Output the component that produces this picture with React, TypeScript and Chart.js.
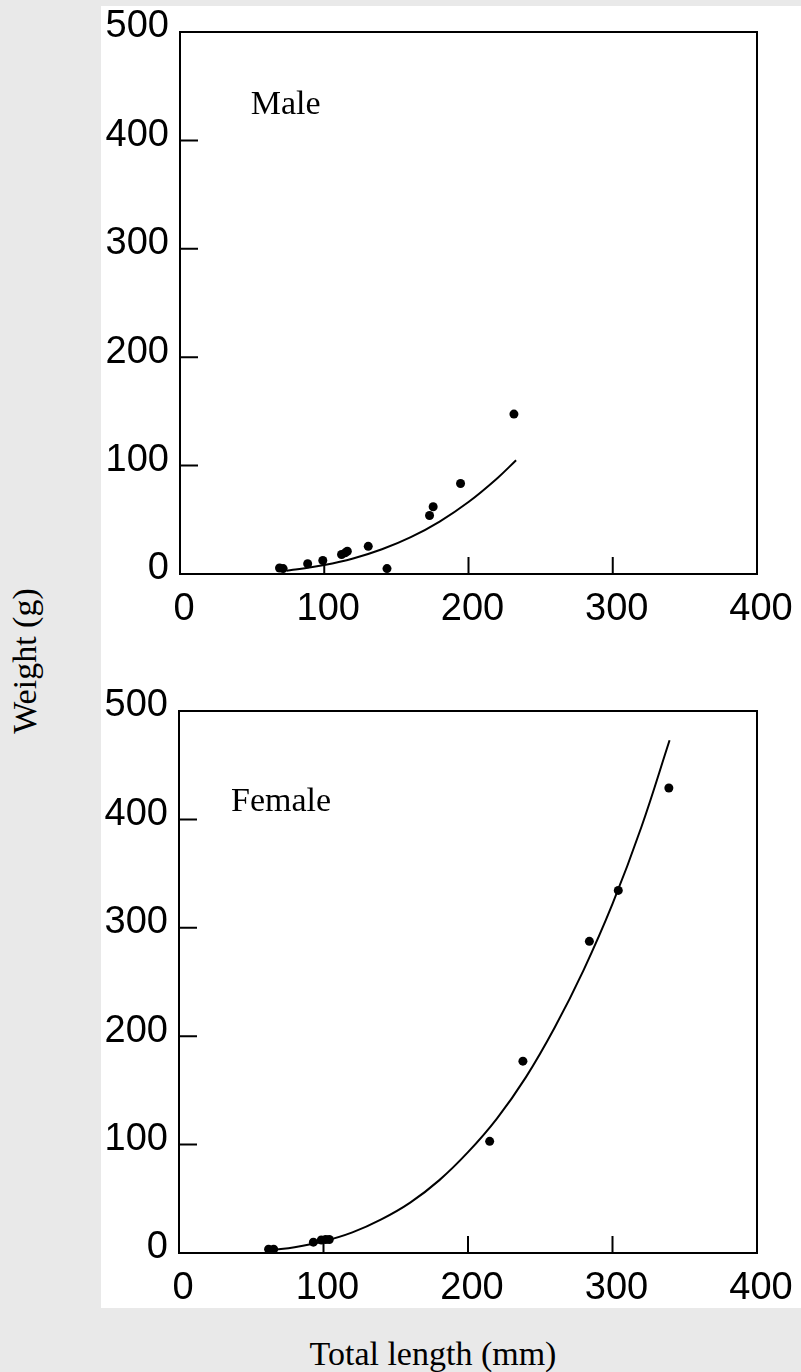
import React, { useEffect, useRef } from "react";
import { Chart, registerables } from "chart.js";

Chart.register(...registerables);

// ---- Data ----
const xMin = 0;
const xMax = 400;
const xStep = 100;
const yMin = 0;
const yMax = 500;
const yStep = 100;

const maleLength = [69, 71.5, 88.5, 99, 112, 114.5, 116, 130.5, 143.5, 173, 175.5, 194.5, 231.5];
const maleWeight = [5.5, 5, 9.5, 12.5, 18, 19.5, 21, 25.5, 5, 54, 62, 83.5, 147.5];

const maleCurveLength = [74, 80, 100, 120, 140, 160, 180, 200, 220, 233];
const maleCurveWeight = [3, 4.1, 8.3, 14.3, 22.8, 34, 48.4, 66.4, 88.4, 105];

const femaleLength = [62, 65.5, 93, 98.5, 101.5, 104, 215, 238, 284, 304, 339];
const femaleWeight = [3.5, 3.5, 10, 12, 12.5, 12.5, 103, 177, 287.5, 334.5, 429];

const femaleCurveLength = [65, 80, 100, 120, 140, 160, 180, 200, 220, 240, 260, 280, 300, 320, 339.5];
const femaleCurveWeight = [3, 5.4, 10.8, 19, 31, 46.5, 67, 93, 124, 162, 208, 261, 322, 393, 473];

const maleLabel = "Male";
const femaleLabel = "Female";
const yTitle = "Weight (g)";
const xTitle = "Total length (mm)";

// ---- Plugins ----
const framePlugin = {
  id: "frameTicks",
  beforeDatasetsDraw(chart: any) {
    const { ctx, chartArea } = chart;
    const xs = chart.scales.x;
    const ys = chart.scales.y;
    ctx.save();
    ctx.strokeStyle = "#000";
    ctx.lineWidth = 2;
    ctx.strokeRect(chartArea.left, chartArea.top, chartArea.right - chartArea.left, chartArea.bottom - chartArea.top);
    ctx.beginPath();
    xs.ticks.forEach((t: any) => {
      const px = xs.getPixelForValue(t.value);
      ctx.moveTo(px, chartArea.bottom);
      ctx.lineTo(px, chartArea.bottom - 17);
    });
    ys.ticks.forEach((t: any) => {
      const py = ys.getPixelForValue(t.value);
      ctx.moveTo(chartArea.left, py);
      ctx.lineTo(chartArea.left + 18, py);
    });
    ctx.stroke();
    ctx.restore();
  },
  afterDatasetsDraw(chart: any) {
    const o = chart.options.plugins.panelLabel;
    if (!o) return;
    const { ctx } = chart;
    const px = chart.scales.x.getPixelForValue(o.x);
    const py = chart.scales.y.getPixelForValue(o.y);
    ctx.save();
    ctx.fillStyle = "#000";
    ctx.font = "34px 'Liberation Serif', 'Times New Roman', serif";
    ctx.textAlign = "left";
    ctx.textBaseline = "alphabetic";
    ctx.fillText(o.text, px, py);
    ctx.restore();
  },
};

type PanelProps = {
  top: number;
  height: number;
  padTop: number;
  axisW: number;
  axisH: number;
  ptsX: number[];
  ptsY: number[];
  curveX: number[];
  curveY: number[];
  label: string;
  labelX: number;
  labelY: number;
};

const tickFont = { family: "'Liberation Sans', Arial, sans-serif", size: 38 };

function Panel(p: PanelProps) {
  const ref = useRef<HTMLCanvasElement | null>(null);
  useEffect(() => {
    if (!ref.current) return;
    const points = p.ptsX.map((x, i) => ({ x, y: p.ptsY[i] }));
    const curve = p.curveX.map((x, i) => ({ x, y: p.curveY[i] }));
    const chart = new Chart(ref.current, {
      type: "scatter",
      data: {
        datasets: [
          {
            data: curve,
            showLine: true,
            borderColor: "#000",
            borderWidth: 2,
            pointRadius: 0,
            tension: 0.4,
            fill: false,
          } as any,
          {
            data: points,
            pointRadius: 4.5,
            pointBackgroundColor: "#000",
            pointBorderWidth: 0,
            borderColor: "#000",
          } as any,
        ],
      },
      plugins: [framePlugin],
      options: {
        animation: false,
        responsive: false,
        devicePixelRatio: 1,
        layout: { padding: { top: p.padTop, right: 44, left: 0, bottom: 0 } },
        plugins: {
          legend: { display: false },
          tooltip: { enabled: false },
          panelLabel: { text: p.label, x: p.labelX, y: p.labelY },
        } as any,
        scales: {
          x: {
            type: "linear",
            min: xMin,
            max: xMax,
            grid: { display: false, drawTicks: false },
            border: { display: false },
            ticks: { stepSize: xStep, color: "#000", font: tickFont, padding: 13, labelOffset: 4, maxRotation: 0, autoSkip: false },
            afterFit: (s: any) => {
              s.height = p.axisH;
              s.paddingLeft = 0;
              s.paddingRight = 0;
            },
          },
          y: {
            type: "linear",
            min: yMin,
            max: yMax,
            grid: { display: false, drawTicks: false },
            border: { display: false },
            ticks: { stepSize: yStep, color: "#000", font: tickFont, padding: 11, labelOffset: -5 },
            afterFit: (s: any) => {
              s.width = p.axisW;
              s.paddingTop = 0;
              s.paddingBottom = 0;
            },
          },
        },
      } as any,
    });
    return () => chart.destroy();
  }, []);
  return (
    <canvas
      ref={ref}
      width={700}
      height={p.height}
      style={{ position: "absolute", left: 101, top: p.top, width: 700, height: p.height }}
    />
  );
}

export default function App() {
  return (
    <div
      style={{
        position: "absolute",
        left: 0,
        top: 0,
        width: 801,
        height: 1372,
        background: "#e9e9e9",
        overflow: "hidden",
      }}
    >
      <div style={{ position: "absolute", left: 101, top: 6, width: 700, height: 1302, background: "#fff" }} />
      <Panel
        top={6}
        height={640}
        padTop={26}
        axisW={79}
        axisH={72}
        ptsX={maleLength}
        ptsY={maleWeight}
        curveX={maleCurveLength}
        curveY={maleCurveWeight}
        label={maleLabel}
        labelX={49}
        labelY={424.5}
      />
      <Panel
        top={646}
        height={662}
        padTop={65}
        axisW={78}
        axisH={55}
        ptsX={femaleLength}
        ptsY={femaleWeight}
        curveX={femaleCurveLength}
        curveY={femaleCurveWeight}
        label={femaleLabel}
        labelX={36}
        labelY={407.7}
      />
      <div
        style={{
          position: "absolute",
          left: 25,
          top: 661,
          transform: "translate(-50%, -50%) rotate(-90deg)",
          fontFamily: "'Liberation Serif', 'Times New Roman', serif",
          fontSize: 34,
          lineHeight: "34px",
          whiteSpace: "nowrap",
          color: "#000",
        }}
      >
        {yTitle}
      </div>
      <div
        style={{
          position: "absolute",
          left: 433,
          top: 1336.5,
          transform: "translateX(-50%)",
          fontFamily: "'Liberation Serif', 'Times New Roman', serif",
          fontSize: 34,
          lineHeight: "34px",
          whiteSpace: "nowrap",
          color: "#000",
        }}
      >
        {xTitle}
      </div>
    </div>
  );
}
